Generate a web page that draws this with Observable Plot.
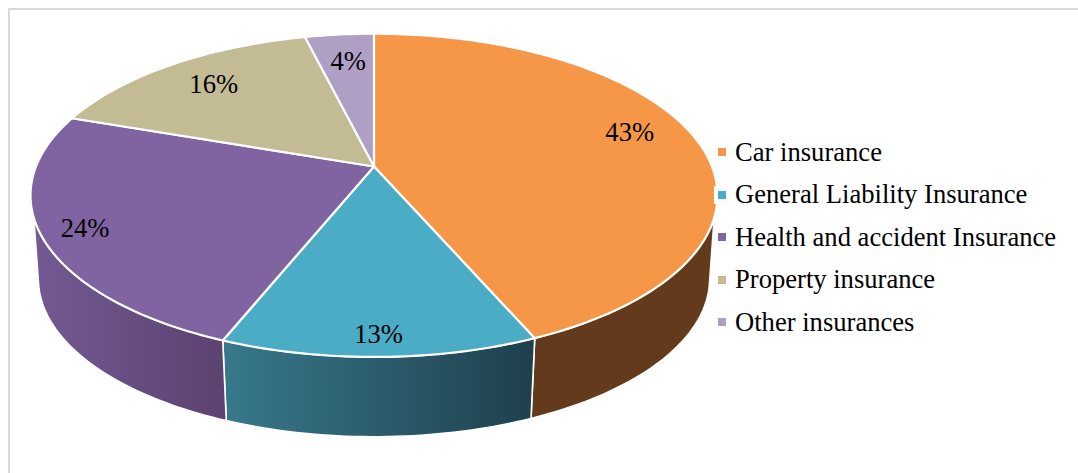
<!DOCTYPE html>
<html>
<head>
<meta charset="utf-8">
<script src="https://cdn.jsdelivr.net/npm/d3@7"></script>
<script src="https://cdn.jsdelivr.net/npm/@observablehq/plot@0.6"></script>
<style>
  html, body { margin: 0; padding: 0; background: #fff; }
  #chart { position: relative; width: 1078px; height: 473px; overflow: hidden; }
  #chart svg { display: block; position: absolute; left: 0; top: 0; }
  #frame { position: absolute; left: 8px; top: 8px; width: 1200px; height: 600px; border: 2px solid #d9d9d9; box-sizing: border-box; }
  #legend { position: absolute; left: 714px; top: 131px; font: 26.6px "Liberation Serif", serif; color: #000; white-space: nowrap; }
  #legend .row { display: flex; align-items: center; height: 42.5px; }
  #legend .mark { width: 16px; height: 18px; background: #fff; display: flex; align-items: center; justify-content: flex-end; margin-right: 5px; }
  #legend .mark i { display: block; width: 8px; height: 8px; margin-right: 4px; }
</style>
</head>
<body>
<div id="chart"><div id="frame"></div></div>
<script>
const categories = ["Car insurance", "General Liability Insurance", "Health and accident Insurance", "Property insurance", "Other insurances"];
const shares = [43.49, 12.6, 24.2, 15.86, 3.85];
const topColors = ["#F59746", "#4BACC6", "#8064A2", "#C2BB94", "#B09FC5"];
const wallFrom = ["#633A1C", "#37798C", "#735A94", "#8a8468", "#7d7090"];
const wallTo = ["#633A1C", "#1F3F4C", "#5B4270", "#8a8468", "#7d7090"];
const labelTurn = [20.5, 49.8, 68.1, 88.3, 98.2];
const labelRadius = [0.82, 0.903, 0.88, 0.78, 0.77];

// Perspective of the tilted disc
const tilt = 0.1783;
const wallScale = 0.977;
const project = (turn, r = 1) => {
  const a = turn / 100 * 2 * Math.PI;
  const u = r * Math.sin(a), v = r * Math.cos(a), d = 1 + tilt * v;
  return [u / d, v / d];
};
const A = 338, B = 156.5;
const yApex = 166, xApex = 373.5;

let acc = 0;
const slices = shares.map((s, i) => {
  const start = acc; acc += s;
  return {i, name: categories[i], start, end: acc};
});

function arc(a, b) {
  const n = Math.max(2, Math.ceil((b - a) * 3));
  return d3.range(n + 1).map(k => a + (b - a) * k / n);
}
function topPoints(sl) {
  return [{x: 0, y: 0}, ...arc(sl.start, sl.end).map(t => { const [x, y] = project(t); return {x, y}; })];
}
// wall: bottom rim is the top rim scaled and dropped
function bottomPoint(t) {
  const [x, y] = project(t);
  const px = yApex - y * B;
  const py = px * wallScale + 88;
  return {x: x * wallScale, y: (yApex - py) / B};
}
const topFrom = 30, topTo = 70, bottomFrom = 28.5, bottomTo = 71.5;
function wallPoints(sl) {
  const a = Math.max(sl.start, topFrom), b = Math.min(sl.end, topTo);
  if (b <= a) return null;
  const a2 = Math.max(sl.start, bottomFrom), b2 = Math.min(sl.end, bottomTo);
  return [
    ...arc(a, b).map(t => { const [x, y] = project(t); return {x, y}; }),
    ...arc(a2, b2).reverse().map(bottomPoint)
  ];
}
const defs = () => {
  const d = d3.create("svg:defs");
  slices.forEach(sl => {
    const g = d.append("linearGradient").attr("id", "wall" + sl.i);
    g.append("stop").attr("offset", "0%").attr("stop-color", wallFrom[sl.i]);
    g.append("stop").attr("offset", "100%").attr("stop-color", wallTo[sl.i]);
  });
  return d.node();
};

const wallMarks = slices.filter(s => wallPoints(s)).map(sl =>
  Plot.line(wallPoints(sl), {x: "x", y: "y", curve: "linear-closed", fill: `url(#wall${sl.i})`, stroke: "#fff", strokeWidth: 1.6, strokeLinejoin: "round"})
);
const topMarks = slices.map(sl =>
  Plot.line(topPoints(sl), {x: "x", y: "y", curve: "linear-closed", fill: topColors[sl.i], stroke: "#fff", strokeWidth: 2.2, strokeLinejoin: "round"})
);
const labels = slices.map(sl => {
  const [x, y] = project(labelTurn[sl.i], labelRadius[sl.i]);
  return {x, y, text: d3.format(".0f")(shares[sl.i]) + "%"};
});

const plot = Plot.plot({
  width: 1078, height: 473, margin: 0,
  x: {domain: [-xApex / A, (1078 - xApex) / A], range: [0, 1078], axis: null},
  y: {domain: [(yApex - 473) / B, yApex / B], range: [473, 0], axis: null},
  style: {background: "transparent"},
  marks: [
    defs,
    ...wallMarks,
    ...topMarks,
    Plot.text(labels, {x: "x", y: "y", text: "text", fontSize: 26.6, fontFamily: "Liberation Serif", fill: "#000", textAnchor: "middle", lineAnchor: "middle"})
  ]
});
document.getElementById("chart").appendChild(plot);

const legend = d3.select("#chart").append("div").attr("id", "legend");
categories.forEach((c, i) => {
  const row = legend.append("div").attr("class", "row");
  row.append("span").attr("class", "mark").append("i").style("background", topColors[i]);
  row.append("span").text(c);
});
</script>
</body>
</html>
